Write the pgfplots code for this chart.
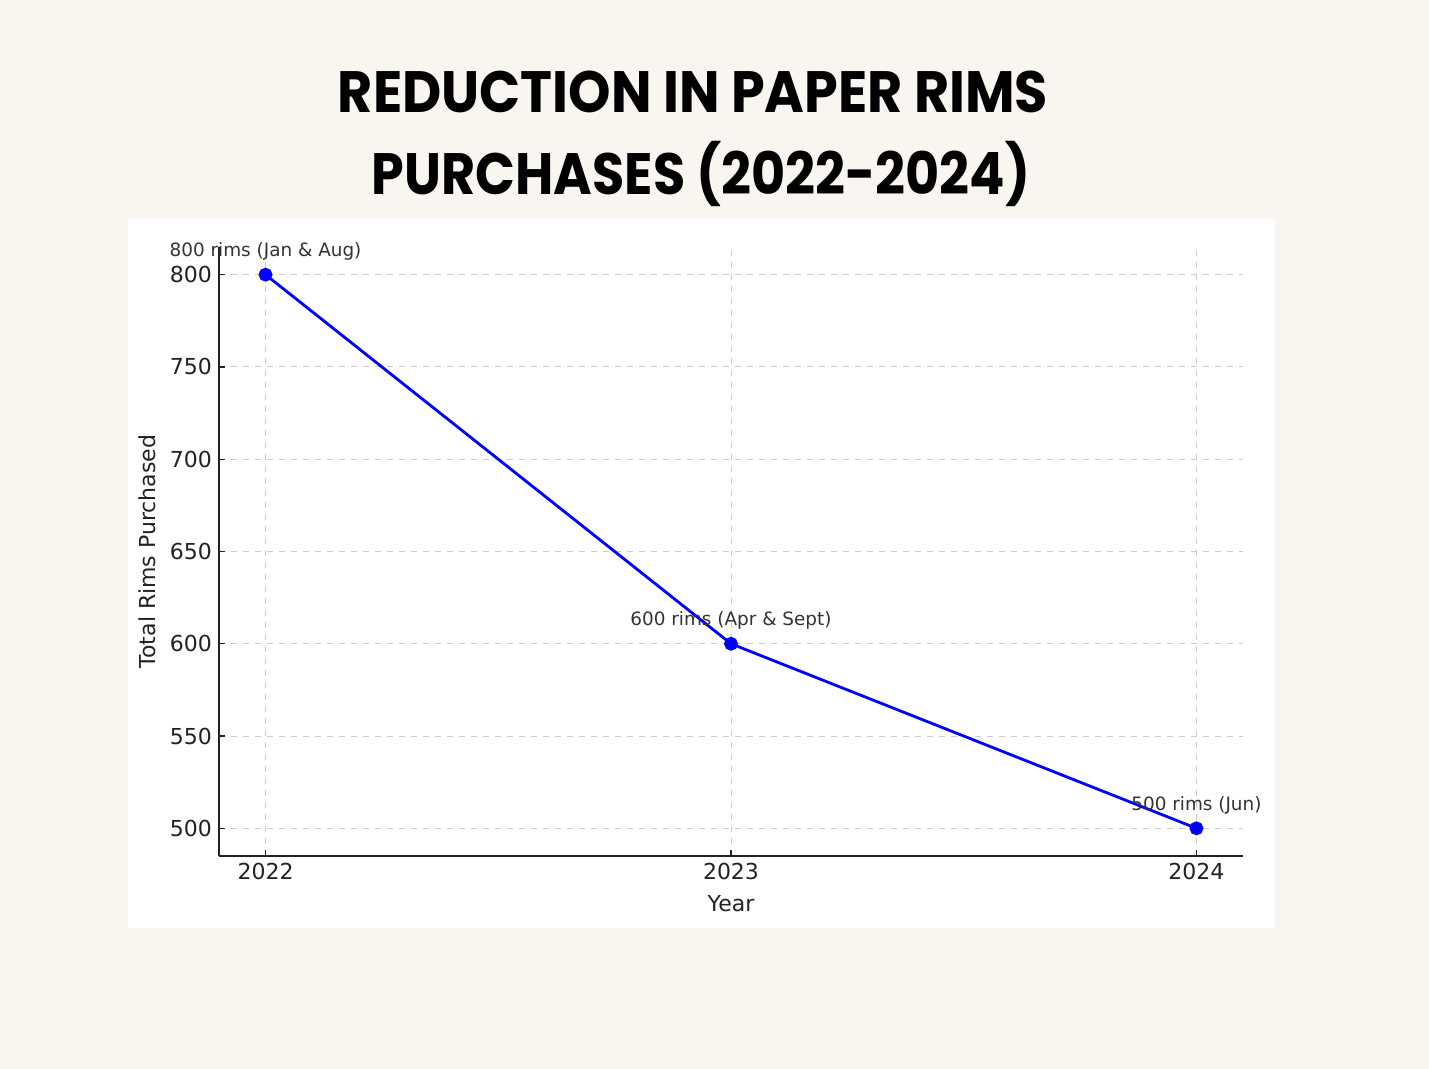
\documentclass[border=0pt]{standalone}
\usepackage{pgfplots}
\pgfplotsset{compat=1.18}
\usepackage{fontspec}
\setmainfont{DejaVu Sans}
\newfontfamily\titlefont{Poppins}
\definecolor{cream}{HTML}{F9F6F1}
\definecolor{gridc}{HTML}{CCCCCC}
\definecolor{txt}{HTML}{222222}
\definecolor{anno}{HTML}{333333}
\begin{document}
\begin{tikzpicture}
\fill[cream] (0,0) rectangle (714.5pt,534.5pt);
\fill[white] (64pt,70.5pt) rectangle (637.5pt,425.5pt);
\node[anchor=base, font=\titlefont\bfseries\fontsize{27}{30}\selectfont, text=black] at (346.5pt,478pt) {\scalebox{1.0}[1.08]{REDUCTION IN PAPER RIMS}};
\node[anchor=base, font=\titlefont\bfseries\fontsize{27}{30}\selectfont, text=black] at (350.5pt,437pt) {\scalebox{0.97}[1.08]{PURCHASES (2022-2024)}};
\begin{axis}[
  at={(109.5pt,106.5pt)}, anchor=origin,
  scale only axis, width=512pt, height=304.5pt,
  xmin=2021.9, xmax=2024.1, ymin=485, ymax=815,
  axis lines=left, axis line style={-, line width=0.7pt, color=txt},
  xtick={2022,2023,2024}, ytick={500,550,...,800},
  tick align=inside, major tick length=3pt,
  tick style={line width=0.6pt, color=txt},
  /pgf/number format/assume math mode=true,
  xticklabel style={/pgf/number format/1000 sep={}},
  ticklabel style={font=\fontsize{11}{13}\selectfont, text=txt},
  grid=major, grid style={dashed, gridc, line width=0.5pt},
  xlabel={Year}, ylabel={Total Rims Purchased},
  label style={font=\fontsize{11}{13}\selectfont, text=txt},
  xlabel style={yshift=-1pt},
  ylabel style={yshift=0pt},
  clip=false,
]
\addplot[color=blue, line width=1.4pt, mark=*, mark size=2.75pt, mark options={fill=blue, draw=blue}] coordinates {
(2022,800) (2023,600) (2024,500)};
\node[font=\fontsize{9.2}{10}\selectfont, text=anno, anchor=base] at (axis cs:2022,800) [yshift=9pt] {800 rims (Jan \& Aug)};
\node[font=\fontsize{9.2}{10}\selectfont, text=anno, anchor=base] at (axis cs:2023,600) [yshift=9pt] {600 rims (Apr \& Sept)};
\node[font=\fontsize{9.2}{10}\selectfont, text=anno, anchor=base] at (axis cs:2024,500) [yshift=9pt] {500 rims (Jun)};
\end{axis}
\end{tikzpicture}
\end{document}
